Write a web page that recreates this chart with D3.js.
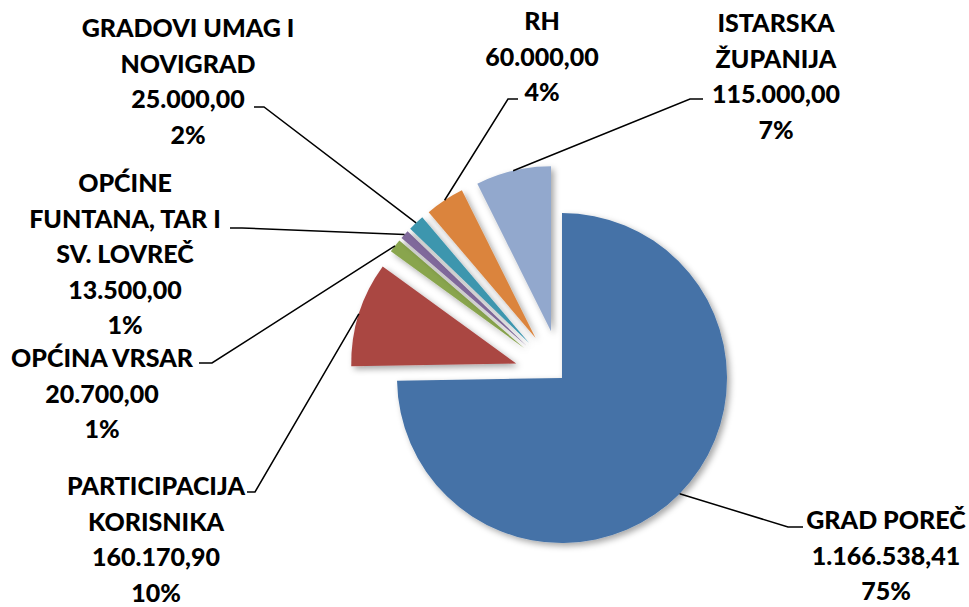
<!DOCTYPE html>
<html>
<head>
<meta charset="utf-8">
<script src="https://cdn.jsdelivr.net/npm/d3@7"></script>
<style>
  html, body { margin: 0; padding: 0; background: #fff; }
  svg { display: block; }
  text { font-family: Lato, "Noto Sans", sans-serif; font-weight: 900; fill: #000; }
</style>
</head>
<body>
<svg id="chart" width="969" height="607"></svg>
<script>
// ---- data ----
const categories = ["GRAD POREČ", "PARTICIPACIJA KORISNIKA", "OPĆINA VRSAR",
  "OPĆINE FUNTANA, TAR I SV. LOVREČ", "GRADOVI UMAG I NOVIGRAD", "RH", "ISTARSKA ŽUPANIJA"];
const values = [1166538.41, 160170.90, 20700.00, 13500.00, 25000.00, 60000.00, 115000.00];
const nameLines = [
  ["GRAD POREČ"],
  ["PARTICIPACIJA", "KORISNIKA"],
  ["OPĆINA VRSAR"],
  ["OPĆINE", "FUNTANA, TAR I", "SV. LOVREČ"],
  ["GRADOVI UMAG I", "NOVIGRAD"],
  ["RH"],
  ["ISTARSKA", "ŽUPANIJA"]
];

// ---- layout / style ----
const colors = ["#4572A7", "#AA4643", "#89A54E", "#80699B", "#3D96AE", "#DB843D", "#92A8CD"];
const center = [562, 378];
const radius = 165;
const explode = 48;
const lineHeight = 35.5;
// label block: center x, first baseline y, stub [xLabelSide, xPieSide, y]
const labelLayout = [
  { cx: 886, y0: 529, stub: [803, 788, 527] },
  { cx: 156, y0: 495, stub: [247, 255, 492] },
  { cx: 102, y0: 367, stub: [199, 212, 363] },
  { cx: 125, y0: 192, stub: [230, 242, 228] },
  { cx: 188, y0: 37,  stub: [254, 264, 107] },
  { cx: 542, y0: 30,  stub: [518, 508, 99] },
  { cx: 776, y0: 32,  stub: [703, 690, 99] }
];

const hr = d3.formatLocale({ decimal: ",", thousands: ".", grouping: [3], currency: ["", ""] });
const fmt = hr.format(",.2f");
const total = d3.sum(values);

const svg = d3.select("#chart");
const defs = svg.append("defs");
const f = defs.append("filter").attr("id", "shadow")
  .attr("x", "-20%").attr("y", "-20%").attr("width", "140%").attr("height", "140%");
f.append("feDropShadow").attr("dx", 3).attr("dy", 3).attr("stdDeviation", 3)
  .attr("flood-color", "#000").attr("flood-opacity", 0.35);

const pie = d3.pie().sort(null).value(d => d)(values);
const arc = d3.arc().innerRadius(0).outerRadius(radius);

function dir(a) { return [Math.sin(a), -Math.cos(a)]; }

const g = svg.append("g").attr("transform", `translate(${center[0]},${center[1]})`);

g.selectAll("path.slice").data(pie).enter().append("path")
  .attr("class", "slice")
  .attr("d", arc)
  .attr("fill", (d, i) => colors[i])
  .attr("filter", "url(#shadow)")
  .attr("transform", (d, i) => {
    const m = (d.startAngle + d.endAngle) / 2, v = dir(m), off = i === 0 ? 0 : explode;
    return `translate(${v[0] * off},${v[1] * off})`;
  });

// leader lines
pie.forEach((d, i) => {
  const m = (d.startAngle + d.endAngle) / 2, v = dir(m), off = i === 0 ? 0 : explode;
  const px = center[0] + v[0] * (off + radius), py = center[1] + v[1] * (off + radius);
  const L = labelLayout[i];
  svg.append("path")
    .attr("d", d3.line()([[L.stub[0], L.stub[2]], [L.stub[1], L.stub[2]], [px, py]]))
    .attr("fill", "none").attr("stroke", "#000").attr("stroke-width", 1.5);
});

// labels
pie.forEach((d, i) => {
  const L = labelLayout[i];
  const lines = nameLines[i].concat([fmt(values[i]), Math.round(values[i] / total * 100) + "%"]);
  const t = svg.append("text").attr("text-anchor", "middle").attr("font-size", 25);
  lines.forEach((s, k) => {
    t.append("tspan").attr("x", L.cx).attr("y", L.y0 + k * lineHeight).text(s);
  });
});
</script>
</body>
</html>
